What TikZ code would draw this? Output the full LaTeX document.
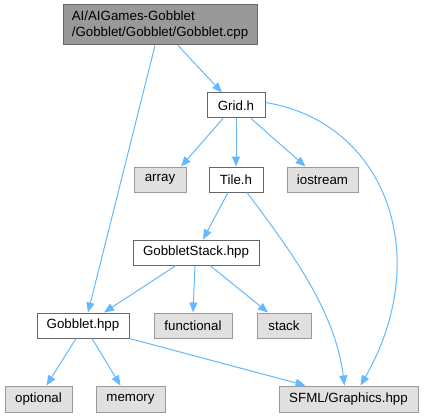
\documentclass[tikz,border=0pt]{standalone}
\usepackage{fontspec}
\setmainfont{Liberation Sans}
\usepackage{xcolor}
\usetikzlibrary{arrows.meta, calc}
\definecolor{DoxEdge}{HTML}{63B8FF}
\definecolor{DoxBorder}{HTML}{666666}
\definecolor{DoxRoot}{HTML}{999999}
\definecolor{DoxExtFill}{HTML}{E0E0E0}
\definecolor{DoxExtBorder}{HTML}{999999}

\begin{document}
\begin{tikzpicture}[
    x=0.75pt, y=-0.75pt,
    file/.style={draw=DoxBorder, fill=white, line width=0.75pt, font=\fontsize{10}{12}\selectfont, minimum height=18.75pt, inner sep=0pt, anchor=center},
    extfile/.style={file, draw=DoxExtBorder, fill=DoxExtFill, minimum height=19.5pt},
    rootfile/.style={file, fill=DoxRoot, minimum height=30pt, align=left},
    incl/.style={draw=DoxEdge, line width=0.75pt, -{Triangle[length=7.5pt, width=6pt]}}
]
\useasboundingbox (0,0) rectangle (424,417);
\node[rootfile, minimum width=145.5pt] (root) at (160,25) {AI/AIGames-Gobblet\\/Gobblet/Gobblet/Gobblet.cpp};
\node[file, minimum width=43.5pt] (grid) at (236,105.5) {Grid.h};
\node[extfile, minimum width=39pt, minimum height=18.75pt] (array) at (160,179.5) {array};
\node[file, minimum width=40.5pt] (tile) at (236,179.5) {Tile.h};
\node[extfile, minimum width=53.25pt, minimum height=18.75pt] (iostream) at (322.5,179.5) {iostream};
\node[file, minimum width=94.5pt] (gstack) at (196,252.5) {GobbletStack.hpp};
\node[file, minimum width=69pt] (gobhpp) at (83,325.5) {Gobblet.hpp};
\node[extfile, minimum width=58.5pt, minimum height=18.75pt] (functional) at (193,325.5) {functional};
\node[extfile, minimum width=40.5pt, minimum height=18.75pt] (stack) at (284,325.5) {stack};
\node[extfile, minimum width=50.25pt] (optional) at (38.5,399) {optional};
\node[extfile, minimum width=51.75pt] (memory) at (130.5,399) {memory};
\node[extfile, minimum width=104.25pt] (sfml) at (348.5,399) {SFML/Graphics.hpp};

% include edges
\draw[incl] ($(root.south)+(18,0)$) -- ($(grid.north)+(-14,0)$);
\draw[incl] ($(root.south)+(-5,0)$) -- ($(gobhpp.north)+(5,0)$);
\draw[incl] ($(grid.south)+(-13,0)$) -- ($(array.north)+(21,0)$);
\draw[incl] (grid) -- (tile);
\draw[incl] ($(grid.south)+(15,0)$) -- ($(iostream.north)+(-17,0)$);
\draw[incl] ($(grid.east)+(0,-3)$) .. controls (385,122) and (435,255) .. ($(sfml.north)+(12,0)$);
\draw[incl] ($(tile.south)+(-8,0)$) -- ($(gstack.north)+(7,0)$);
\draw[incl] ($(tile.south)+(11,0)$) .. controls (290,250) and (335,310) .. ($(sfml.north)+(-4,0)$);
\draw[incl] ($(gstack.south)+(-20,0)$) -- ($(gobhpp.north)+(21,0)$);
\draw[incl] ($(gstack.south)+(-1,0)$) -- (functional.north);
\draw[incl] ($(gstack.south)+(14,0)$) -- ($(stack.north)+(-16,0)$);
\draw[incl] ($(gobhpp.south)+(-7,0)$) -- ($(optional.north)+(8,0)$);
\draw[incl] ($(gobhpp.south)+(9,0)$) -- ($(memory.north)+(-10,0)$);
\draw[incl] (gobhpp.south east) -- ($(sfml.north)+(-43,0)$);
\end{tikzpicture}
\end{document}
